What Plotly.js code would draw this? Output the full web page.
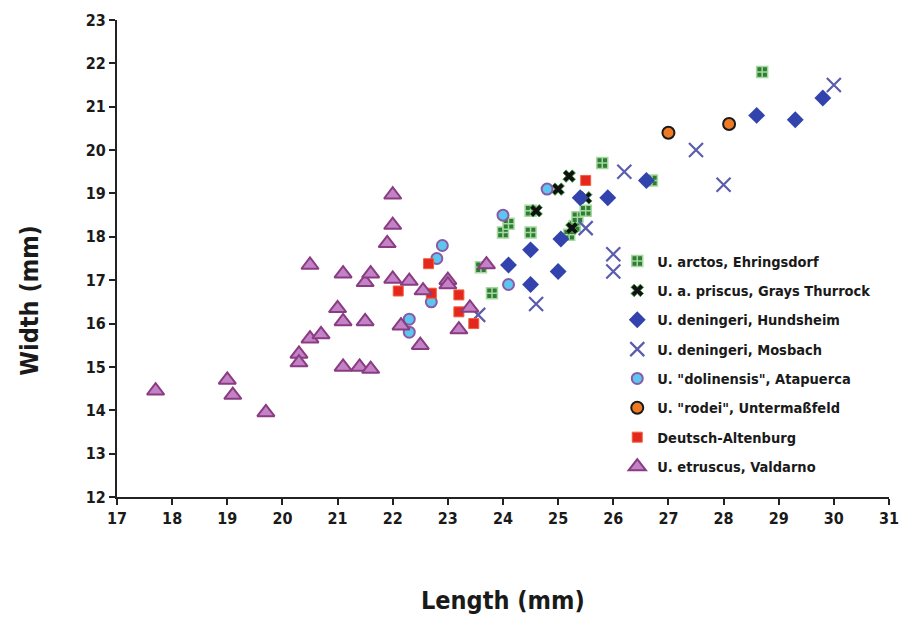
<!DOCTYPE html>
<html>
<head>
<meta charset="utf-8">
<script src="https://cdn.plot.ly/plotly-3.0.1.min.js"></script>
<style>html,body{margin:0;padding:0;background:#fff;}#chart{width:901px;height:617px;}</style>
</head>
<body>
<div id="chart"></div>
<script>
// Data (Length mm, Width mm)
const ehringsdorfX = [23.6, 23.8, 24.0, 24.1, 24.5, 24.5, 25.2, 25.3, 25.35, 25.5, 25.8, 26.7, 28.7];
const ehringsdorfY = [17.3, 16.7, 18.1, 18.3, 18.6, 18.1, 18.05, 18.25, 18.45, 18.6, 19.7, 19.3, 21.8];

const graysX = [24.6, 25.0, 25.2, 25.25, 25.5];
const graysY = [18.6, 19.1, 19.4, 18.2, 18.9];

const hundsheimX = [24.1, 24.5, 24.5, 25.0, 25.05, 25.4, 25.9, 26.6, 28.6, 29.3, 29.8];
const hundsheimY = [17.35, 17.7, 16.9, 17.2, 17.95, 18.9, 18.9, 19.3, 20.8, 20.7, 21.2];

const mosbachX = [23.55, 24.6, 25.5, 26.0, 26.0, 26.2, 27.5, 28.0, 30.0];
const mosbachY = [16.2, 16.45, 18.2, 17.6, 17.2, 19.5, 20.0, 19.2, 21.5];

const atapuercaX = [22.3, 22.3, 22.7, 22.8, 22.9, 24.0, 24.1, 24.8];
const atapuercaY = [16.1, 15.8, 16.5, 17.5, 17.8, 18.5, 16.9, 19.1];

const rodeiX = [27.0, 28.1];
const rodeiY = [20.4, 20.6];

const deutschX = [22.1, 22.65, 22.7, 23.2, 23.2, 23.47, 25.5];
const deutschY = [16.75, 17.38, 16.7, 16.66, 16.27, 16.0, 19.3];

const valdarnoX = [17.7, 19.0, 19.1, 19.7, 20.3, 20.3, 20.5, 20.7, 20.5, 21.0, 21.1, 21.1, 21.1, 21.4, 21.5, 21.5,
                   21.6, 21.6, 21.9, 22.0, 22.0, 22.0, 22.15, 22.3, 22.5, 22.55, 23.0, 23.0, 23.2, 23.4, 23.7];
const valdarnoY = [14.45, 14.7, 14.35, 13.95, 15.3, 15.1, 15.65, 15.75, 17.35, 16.35, 16.05, 17.15, 15.0, 15.0, 16.05, 16.95,
                   17.15, 14.95, 17.85, 18.97, 18.27, 17.03, 15.95, 16.98, 15.5, 16.76, 17.0, 16.9, 15.86, 16.36, 17.36];

const seriesNames = [
  'U. arctos, Ehringsdorf',
  'U. a. priscus, Grays Thurrock',
  'U. deningeri, Hundsheim',
  'U. deningeri, Mosbach',
  'U. "dolinensis", Atapuerca',
  'U. "rodei", Untermaßfeld',
  'Deutsch-Altenburg',
  'U. etruscus, Valdarno'
];

const xTicks = [17,18,19,20,21,22,23,24,25,26,27,28,29,30,31];
const yTicks = [12,13,14,15,16,17,18,19,20,21,22,23];
const xTitle = 'Length (mm)';
const yTitle = 'Width (mm)';

const FONT = 'DejaVu Sans Condensed, Liberation Sans Narrow, Arial Narrow, sans-serif';

function tr(name, x, y, marker, i) {
  return {type: 'scatter', mode: 'markers', name: name, x: x, y: y, marker: marker,
          legendgroup: 'g' + i, cliponaxis: false, hoverinfo: 'x+y+name'};
}

const data = [
  tr(seriesNames[0], ehringsdorfX, ehringsdorfY, {symbol: 'square-cross', size: 11, color: '#2e7d34', line: {color: '#a6d8a0', width: 1.5}}, 0),
  tr(seriesNames[1], graysX, graysY, {symbol: 'x', size: 11, color: '#111111', line: {color: '#3f8f3f', width: 1}}, 1),
  tr(seriesNames[2], hundsheimX, hundsheimY, {symbol: 'diamond', size: 13, color: '#3343ad', line: {color: '#3343ad', width: 0}}, 2),
  tr(seriesNames[3], mosbachX, mosbachY, {symbol: 'x-thin-open', size: 14, color: '#5a5cae', line: {color: '#5a5cae', width: 2.2}}, 3),
  tr(seriesNames[4], atapuercaX, atapuercaY, {symbol: 'circle', size: 11, color: '#5cc6ee', line: {color: '#8a5aa6', width: 2}}, 4),
  tr(seriesNames[5], rodeiX, rodeiY, {symbol: 'circle', size: 12, color: '#ee7a24', line: {color: '#1a1a1a', width: 2}}, 5),
  tr(seriesNames[6], deutschX, deutschY, {symbol: 'square', size: 10, color: '#e5281e', line: {color: '#f0603a', width: 1}}, 6),
  tr(seriesNames[7], valdarnoX, valdarnoY, {symbol: 'triangle-up', size: 15, color: '#c382c6', line: {color: '#8a3c82', width: 2}}, 7)
];

const titleFont = {family: FONT, size: 25, weight: 'bold', color: '#1a1a1a'};

const layout = {
  width: 901, height: 617,
  margin: {l: 117, r: 12, t: 20, b: 120},
  paper_bgcolor: '#ffffff', plot_bgcolor: '#ffffff',
  font: {family: FONT, color: '#1a1a1a'},
  showlegend: true,
  legend: {
    x: 0.648, y: 0.528, xanchor: 'left', yanchor: 'top',
    bgcolor: 'rgba(0,0,0,0)', borderwidth: 0,
    font: {family: FONT, size: 14.5, weight: 'bold', color: '#1a1a1a'},
    tracegroupgap: 7.5, itemwidth: 30
  },
  xaxis: {
    range: [17, 31], tickvals: xTicks, ticktext: xTicks.map(String),
    showgrid: false, zeroline: false, showline: true, linecolor: '#222', linewidth: 2,
    ticks: 'outside', ticklen: 6, tickwidth: 2, tickcolor: '#222',
    ticklabeloverflow: 'allow',
    tickfont: {family: FONT, size: 16, weight: 'bold', color: '#1a1a1a'},
    automargin: false
  },
  yaxis: {
    range: [12, 23], tickvals: yTicks, ticktext: yTicks.map(String),
    showgrid: false, zeroline: false, showline: true, linecolor: '#222', linewidth: 2,
    ticks: 'outside', ticklen: 6, tickwidth: 2, tickcolor: '#222',
    ticklabeloverflow: 'allow',
    tickfont: {family: FONT, size: 16, weight: 'bold', color: '#1a1a1a'},
    automargin: false
  },
  annotations: [
    {text: xTitle, xref: 'paper', yref: 'paper', x: 0.5, y: -0.216, xanchor: 'center', yanchor: 'middle',
     showarrow: false, font: titleFont},
    {text: yTitle, xref: 'paper', yref: 'paper', x: -0.113, y: 0.413, xanchor: 'center', yanchor: 'middle',
     textangle: -90, showarrow: false, font: titleFont}
  ]
};

Plotly.newPlot('chart', data, layout, {displayModeBar: false, staticPlot: true});
</script>
</body>
</html>
